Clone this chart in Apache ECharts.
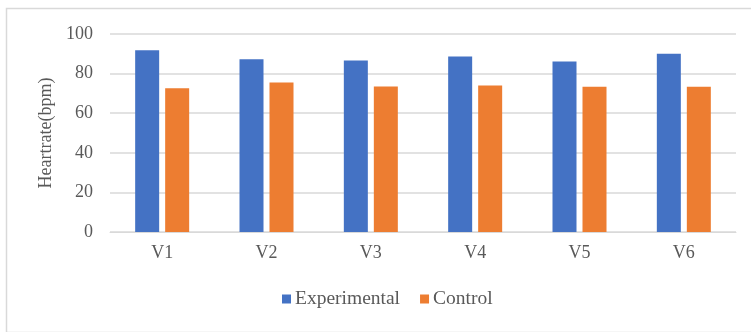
<!DOCTYPE html>
<html>
<head>
<meta charset="utf-8">
<script src="https://cdn.jsdelivr.net/npm/echarts@6/dist/echarts.min.js"></script>
<style>html,body{margin:0;padding:0;background:#fff}#c{width:751px;height:332px}</style>
</head>
<body>
<div id="c"></div>
<script>
const categories = ['V1', 'V2', 'V3', 'V4', 'V5', 'V6'];
const experimental = [91.8, 87.3, 86.6, 88.6, 86.1, 90.0];
const control = [72.6, 75.5, 73.5, 74.0, 73.3, 73.3];
const yTicks = [0, 20, 40, 60, 80, 100];
const seriesNames = ['Experimental', 'Control'];

const font = 'Liberation Serif';
const chart = echarts.init(document.getElementById('c'), null, {renderer: 'canvas'});
chart.setOption({
  animation: false,
  backgroundColor: '#fff',
  graphic: [{
    type: 'rect', left: 4, top: 6,
    shape: {width: 760, height: 324},
    style: {fill: 'none', stroke: '#d9d9d9', lineWidth: 1.5}
  }],
  grid: {left: 110, right: 15, top: 34, bottom: 100},
  legend: {
    data: seriesNames,
    bottom: 18,
    left: 277,
    itemWidth: 9, itemHeight: 9, itemGap: 20,
    icon: 'rect',
    textStyle: {fontFamily: font, fontSize: 19.5, color: '#595959', padding: [0, 0, 0, -1]}
  },
  xAxis: {
    type: 'category',
    data: categories,
    axisLine: {lineStyle: {color: '#d9d9d9', width: 1}},
    axisTick: {show: false},
    axisLabel: {fontFamily: font, fontSize: 18, color: '#595959', margin: 12}
  },
  yAxis: {
    type: 'value',
    min: yTicks[0], max: yTicks[yTicks.length - 1], interval: 20,
    name: 'Heartrate(bpm)',
    nameLocation: 'middle',
    nameGap: 54,
    nameTextStyle: {fontFamily: font, fontSize: 18, color: '#595959'},
    axisLine: {show: false},
    axisTick: {show: false},
    splitLine: {lineStyle: {color: '#d9d9d9', width: 1.5}},
    axisLabel: {fontFamily: font, fontSize: 18, color: '#595959', margin: 17}
  },
  series: [{
    name: seriesNames[0], type: 'bar', data: experimental,
    barWidth: 24, barGap: '25%',
    itemStyle: {color: '#4472c4'}
  }, {
    name: seriesNames[1], type: 'bar', data: control,
    barWidth: 24,
    itemStyle: {color: '#ed7d31'}
  }]
});
</script>
</body>
</html>
